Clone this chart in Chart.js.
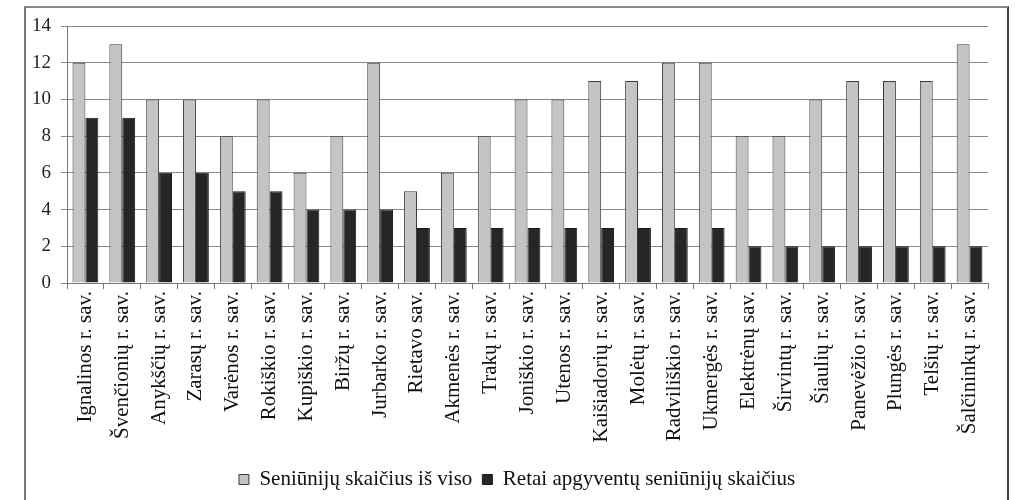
<!DOCTYPE html>
<html><head><meta charset="utf-8">
<script src="https://cdn.jsdelivr.net/npm/chart.js@4"></script>
<style>
html,body{margin:0;padding:0;background:#fff;}
#wrap{position:relative;width:1015px;height:500px;}
#frame{position:absolute;left:24px;top:6px;width:981px;height:500px;border-left:2px solid #777;border-top:2px solid #888;border-right:2px solid #444;pointer-events:none;}
</style></head>
<body>
<div id="wrap"><canvas id="c" width="1015" height="500"></canvas><div id="frame"></div></div>
<script>
const categories = ["Ignalinos r. sav.","Švenčionių r. sav.","Anykščių r. sav.","Zarasų r. sav.","Varėnos r. sav.","Rokiškio r. sav.","Kupiškio r. sav.","Biržų r. sav.","Jurbarko r. sav.","Rietavo sav.","Akmenės r. sav.","Trakų r. sav.","Joniškio r. sav.","Utenos r. sav.","Kaišiadorių r. sav.","Molėtų r. sav.","Radviliškio r. sav.","Ukmergės r. sav.","Elektrėnų sav.","Širvintų r. sav.","Šiaulių r. sav.","Panevėžio r. sav.","Plungės r. sav.","Telšių r. sav.","Šalčininkų r. sav."];
const totalSeniunijos = [12,13,10,10,8,10,6,8,12,5,6,8,10,10,11,11,12,12,8,8,10,11,11,11,13];
const sparseSeniunijos = [9,9,6,6,5,5,4,4,4,3,3,3,3,3,3,3,3,3,2,2,2,2,2,2,2];
const seriesNames = ["Seniūnijų skaičius iš viso","Retai apgyventų seniūnijų skaičius"];
const yTicks = [0,2,4,6,8,10,12,14];

const serif = "'Liberation Serif','DejaVu Serif',serif";
const legendShift = {
  id: 'legendShift',
  afterLayout(chart) {
    if (chart.legend) { chart.legend.left += 23; chart.legend.right += 23; }
  }
};
new Chart(document.getElementById('c'), {
  type: 'bar',
  data: {
    labels: categories,
    datasets: [
      {label: seriesNames[0], data: totalSeniunijos, backgroundColor: '#c4c4c4', borderColor: '#3a3a3a', borderWidth: 1, categoryPercentage: 0.7, barPercentage: 1.0},
      {label: seriesNames[1], data: sparseSeniunijos, backgroundColor: '#262626', borderColor: '#1a1a1a', borderWidth: 1, categoryPercentage: 0.7, barPercentage: 1.0}
    ]
  },
  plugins: [legendShift],
  options: {
    responsive: false,
    animation: false,
    devicePixelRatio: 1,
    layout: {padding: {left: 0, right: 27, top: 26, bottom: 0}},
    plugins: {
      legend: {
        position: 'bottom',
        labels: {font: {family: serif, size: 21}, color: '#111', boxWidth: 10, boxHeight: 10, padding: 10}
      },
      tooltip: {enabled: false}
    },
    scales: {
      x: {
        grid: {display: true, drawOnChartArea: false, offset: true, color: '#777', tickLength: 6},
        border: {color: '#777'},
        ticks: {font: {family: serif, size: 21}, color: '#111', maxRotation: 90, minRotation: 90, autoSkip: false, padding: 2},
        afterFit: s => { s.height = 176; }
      },
      y: {
        min: 0, max: 14,
        afterBuildTicks: s => { s.ticks = yTicks.map(v => ({value: v})); },
        grid: {color: '#8a8a8a', tickLength: 6},
        border: {color: '#777'},
        ticks: {font: {family: serif, size: 19}, color: '#222', padding: 10},
        afterFit: s => { s.width = 67; }
      }
    }
  }
});
</script>
</body></html>
